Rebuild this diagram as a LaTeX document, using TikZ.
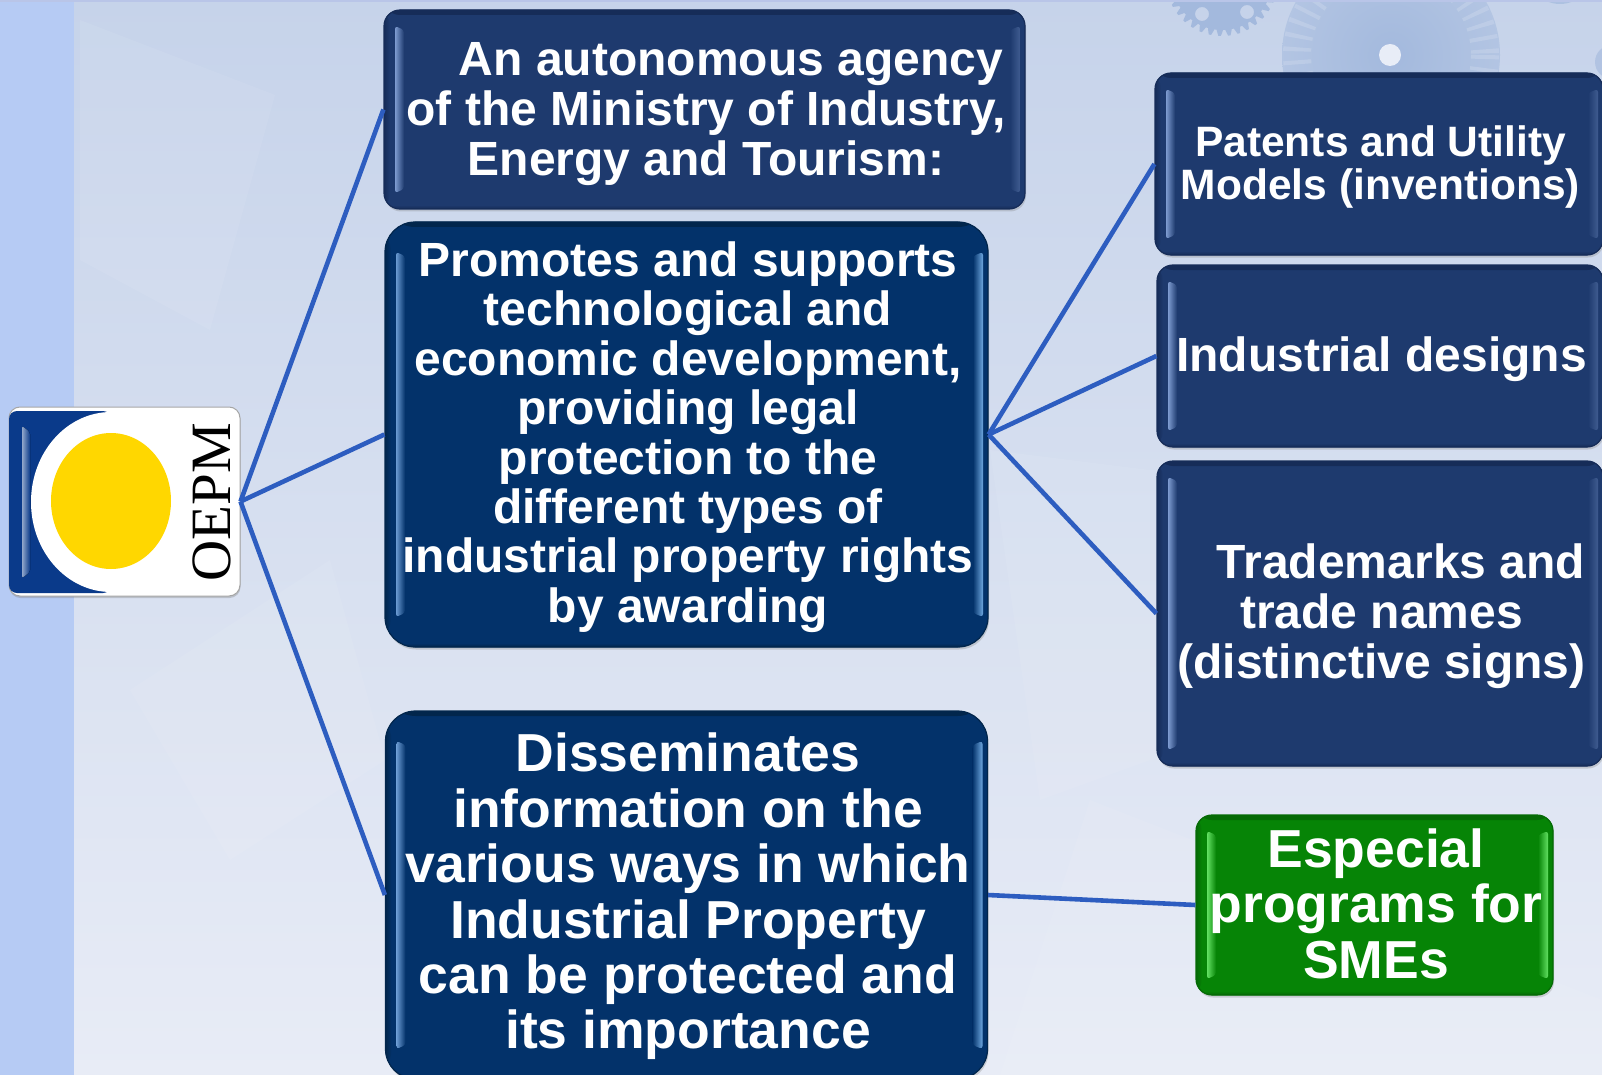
\documentclass[tikz,border=0pt]{standalone}
\usepackage{fontspec}
\setmainfont{Liberation Sans}
\newfontfamily\serifface{Liberation Serif}
\usetikzlibrary{shadows,calc}
\definecolor{bgtop}{HTML}{C6D3EA}
\definecolor{bgbot}{HTML}{E8ECF6}
\definecolor{strip}{HTML}{B6CBF4}
\definecolor{topline}{HTML}{B9C5E8}
\definecolor{linkc}{HTML}{2D5DC0}
\definecolor{navy}{HTML}{1E3A6E}
\definecolor{navyhi}{HTML}{7D9BD0}
\definecolor{navyedge}{HTML}{162C58}
\definecolor{deep}{HTML}{03326A}
\definecolor{deephi}{HTML}{6A9AD2}
\definecolor{deeprt}{HTML}{6FA8E0}
\definecolor{deepedge}{HTML}{02264C}
\definecolor{grn}{HTML}{068406}
\definecolor{grnhi}{HTML}{62E062}
\definecolor{grnedge}{HTML}{056A05}
\definecolor{gearc}{HTML}{A3B9DD}
\definecolor{logoblue}{HTML}{0A3A8A}
\definecolor{sun}{HTML}{FFD700}
\newcommand{\fs}[2]{\fontsize{#1}{#2}\selectfont\bfseries}
\newcommand{\sh}{\hspace*{3pt}}
\tikzset{
  x=1pt,y=-1pt,
  link/.style={draw=linkc,line width=4.6pt},
  glass/.style n args={5}{
    rectangle,rounded corners=#5,fill=#1,draw=#3,line width=1.2pt,
    text=white,align=center,inner sep=0pt,
    drop shadow={shadow xshift=1pt,shadow yshift=-2.5pt,opacity=.3},
    path picture={
      \fill[top color=#3,bottom color=#1]
        (path picture bounding box.north west) rectangle ([yshift=-5pt]path picture bounding box.north east);
      \fill[top color=#1,bottom color=#3]
        ([yshift=4pt]path picture bounding box.south west) rectangle (path picture bounding box.south east);
      \fill[left color=#3,right color=#1]
        (path picture bounding box.south west) rectangle ([xshift=6pt]path picture bounding box.north west);
      \fill[rounded corners=3pt,left color=#2,right color=#1]
        ([xshift=11pt,yshift=-#5]path picture bounding box.north west) --
        ([xshift=20pt,yshift=-#5-4pt]path picture bounding box.north west) --
        ([xshift=20pt,yshift=#5+4pt]path picture bounding box.south west) --
        ([xshift=11pt,yshift=#5]path picture bounding box.south west) -- cycle;
      \fill[rounded corners=3pt,left color=#1,right color=#4]
        ([xshift=-15pt,yshift=-#5-4pt]path picture bounding box.north east) --
        ([xshift=-5pt,yshift=-#5]path picture bounding box.north east) --
        ([xshift=-5pt,yshift=#5]path picture bounding box.south east) --
        ([xshift=-15pt,yshift=#5+4pt]path picture bounding box.south east) -- cycle;
    }},
  navybox/.style={glass={navy}{navyhi}{navyedge}{navy!65!navyhi}{16pt}},
  deepbox/.style={glass={deep}{deephi}{deepedge}{deeprt}{30pt}},
  grnbox/.style={glass={grn}{grnhi}{grnedge}{grnhi}{16pt}},
  pale/.style={fill=white,opacity=.07},
  fa/.style={font=\fs{48}{50}},
  fb/.style={font=\fs{48}{49.4}},
  fc/.style={font=\fs{53.5}{55.4}},
  fd/.style={font=\fs{42.5}{43}},
}
\begin{document}
\begin{tikzpicture}
\useasboundingbox (0,0) rectangle (1602,1075);
\begin{scope}
\clip (0,0) rectangle (1602,1075);
\fill[top color=bgtop,bottom color=bgbot] (0,0) rectangle (1602,1075);
% faint background forms
\fill[pale] (80,20) -- (275,95) -- (210,330) -- (80,260) -- cycle;
\fill[pale] (130,690) -- (330,560) -- (385,760) -- (230,860) -- cycle;
\fill[pale] (990,450) -- (1150,470) -- (1150,760) -- (1040,800) -- cycle;
\fill[pale] (1000,1075) -- (1090,800) -- (1602,1000) -- (1602,1075) -- cycle;
% gears
\fill[gearc,even odd rule]
  plot[samples=289,domain=0:360] ({1222+(53+3*sign(sin(36*\x)))*cos(\x)},{-20+(53+3*sign(sin(36*\x)))*sin(\x)})
  (1202,14) circle[radius=7] (1247,12) circle[radius=7];
\fill[gearc!70!bgtop] (1560,-28) circle[radius=32];
\shade[inner color=gearc,outer color=gearc!55!bgtop] (1391,55) circle[radius=109];
\draw[bgtop!85!white,opacity=.4,line width=28pt,dash pattern=on 4pt off 9pt] (1391,55) circle[radius=94];
\fill[bgtop!40!white] (1390,55) circle[radius=11];
\fill[gearc!60!bgtop] (1612,62) circle[radius=17];
\fill[strip] (0,0) rectangle (74,1075);
\fill[topline] (0,0) rectangle (1602,2);
\end{scope}

% logo
\node[rectangle,rounded corners=11pt,fill=white,draw=gray!70,line width=1pt,inner sep=0pt,
  minimum width=231pt,minimum height=189pt,
  drop shadow={shadow xshift=.5pt,shadow yshift=-2pt,opacity=.35}] (logo) at (124.5,501.5) {};
\begin{scope}
\clip[rounded corners=10pt] (logo.south west) rectangle (logo.north east);
\fill[logoblue,rounded corners=8pt] (9,411) -- (111,411) -- (111,593) -- (9,593) -- cycle;
\fill[white] (111,502) ellipse[x radius=80,y radius=90];
\fill[left color=logoblue!45!white,right color=logoblue,rounded corners=2pt] (22,426) -- (30,432) -- (30,572) -- (22,578) -- cycle;
\fill[sun] (111,501) ellipse[x radius=60,y radius=68];
\end{scope}
\node[rotate=90,inner sep=0pt,text=black,font=\serifface\fontsize{57}{57}\selectfont] (logotxt) at (212,502) {OEPM};

% boxes
\node[navybox,fa,minimum width=641pt,minimum height=199pt] (a) at (704.5,109.5)
  {\hspace*{53pt}\rule{0pt}{42pt}An autonomous agency\\ \sh of the Ministry of Industry,\\ \sh Energy and Tourism:};
\node[deepbox,fb,minimum width=603pt,minimum height=425pt] (b) at (686.5,434.5)
  {\sh\rule{0pt}{40pt}Promotes and supports\\ \sh technological and\\ \sh economic development,\\ \sh providing legal\\ \sh protection to the\\ \sh different types of\\ \sh industrial property rights\\ \sh by awarding};
\node[deepbox,fc,minimum width=602pt,minimum height=368pt] (c) at (686.5,895)
  {\sh\rule{0pt}{42pt}Disseminates\\ \sh information on the\\ \sh various ways in which\\ \sh Industrial Property\\ \sh can be protected and\\ \sh its importance};
\node[navybox,fd,minimum width=448pt,minimum height=182pt] (d) at (1379,164)
  {\sh\rule{0pt}{37pt}Patents and Utility\\ \sh Models (inventions)};
\node[navybox,fa,minimum width=446pt,minimum height=182pt] (e) at (1380,356)
  {\sh\rule{0pt}{42pt}Industrial designs};
\node[navybox,fa,minimum width=446pt,minimum height=305pt] (f) at (1380,613.5)
  {\hspace*{42pt}\rule{0pt}{41pt}Trademarks and\\ \sh trade names\\ \sh (distinctive signs)};
\node[grnbox,fc,minimum width=357pt,minimum height=180pt] (g) at (1374.5,905)
  {\sh Especial\\ \sh programs for\\ \sh SMEs\rule[-3pt]{0pt}{3pt}};

% connectors
\draw[link] (logo.east) -- (a.west);
\draw[link] (logo.east) -- (b.west);
\draw[link] (logo.east) -- (c.west);
\draw[link] (b.east) -- (d.west);
\draw[link] (b.east) -- (e.west);
\draw[link] (b.east) -- (f.west);
\draw[link] (c.east) -- (g.west);
\end{tikzpicture}
\end{document}
